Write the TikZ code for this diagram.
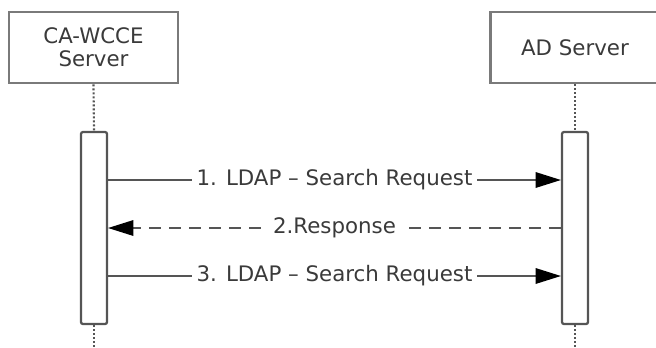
\documentclass[tikz,border=0pt]{standalone}
\usepackage{fontspec}
\setmainfont{DejaVu Sans}
\usetikzlibrary{arrows.meta}
\definecolor{boxgray}{HTML}{7A7A7A}
\definecolor{txtgray}{HTML}{3A3A3A}
\definecolor{linegray}{HTML}{555555}
\begin{document}
\begin{tikzpicture}[x=0.75pt,y=-0.75pt,
  every node/.style={font=\fontsize{16}{17.5}\selectfont, text=txtgray},
  actor/.style={draw=boxgray, line width=2pt, fill=white, minimum width=169*0.75pt, minimum height=71*0.75pt, align=center, inner sep=0pt},
  actbar/.style={draw=linegray, line width=1.7pt, fill=white, rounded corners=1.5pt, minimum width=26*0.75pt, minimum height=192*0.75pt, inner sep=0pt},
  lifeline/.style={draw=linegray, line width=1.6pt, dash pattern=on 1.5pt off 1.5pt},
  msg/.style={draw=linegray, line width=1.6pt, -{Triangle[length=19pt, width=12pt, fill=black, line width=0pt]}},
  reply/.style={msg, dash pattern=on 9pt off 6pt},
  lbl/.style={fill=white, inner sep=3.5pt, inner ysep=1pt}
]
\useasboundingbox (0,0) rectangle (656,347);
\begin{scope}
\clip (0,0) rectangle (656,347);
\node[actor] (ca) at (93.5,47.5) {CA-WCCE\\Server};
\node[actor] (ad) at (575,47.5) {AD Server};
\node[actbar] (la) at (94,228) {};
\node[actbar] (ra) at (575,228) {};
\coordinate (lend) at (94,347);
\coordinate (rend) at (575,347);
\draw[lifeline] (ca.south) -- (la.north);
\draw[lifeline] (ad.south) -- (ra.north);
\draw[lifeline] (la.south) -- (lend);
\draw[lifeline] (ra.south) -- (rend);
\draw[msg] (la.east |- 0,180) -- node[lbl] {1. LDAP – Search Request} (ra.west |- 0,180);
\draw[reply] (ra.west |- 0,228) -- node[lbl, inner xsep=5pt] {2.Response} (la.east |- 0,228);
\draw[msg] (la.east |- 0,276) -- node[lbl] {3. LDAP – Search Request} (ra.west |- 0,276);
\end{scope}
\end{tikzpicture}
\end{document}
